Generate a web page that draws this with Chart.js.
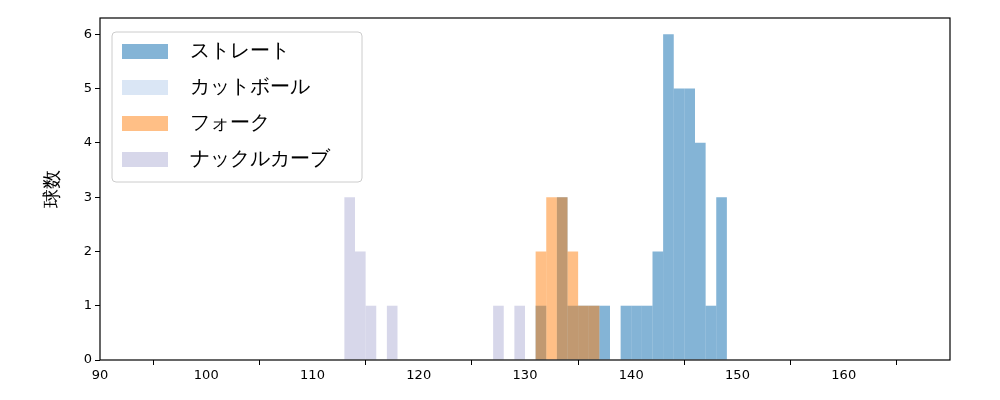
<!DOCTYPE html>
<html><head><meta charset="utf-8">
<script src="https://cdn.jsdelivr.net/npm/chart.js@4/dist/chart.umd.min.js"></script>
<style>html,body{margin:0;background:#fff}#wrap{width:1000px;height:400px}</style>
</head><body><div id="wrap"><canvas id="c"></canvas></div>
<script>
// bin centres (width 1) and counts
var straightX = [131.5,133.5,134.5,135.5,136.5,137.5,139.5,140.5,141.5,142.5,143.5,144.5,145.5,146.5,147.5,148.5];
var straightY = [1,3,1,1,1,1,1,1,1,2,6,5,5,4,1,3];
var cutterX = [];
var cutterY = [];
var forkX = [131.5,132.5,133.5,134.5,135.5,136.5];
var forkY = [2,3,3,2,1,1];
var knuckleX = [113.5,114.5,115.5,117.5,127.5,129.5];
var knuckleY = [3,2,1,1,1,1];
var xTicks = [90,100,110,120,130,140,150,160];
var yTicks = [0,1,2,3,4,5,6];
var names = ['ストレート','カットボール','フォーク','ナックルカーブ'];
var colors = ['rgba(31,119,180,0.55)','rgba(174,199,232,0.45)','rgba(255,127,14,0.5)','rgba(188,189,220,0.6)'];

function pts(xs, ys) { return xs.map(function (x, i) { return {x: x, y: ys[i]}; }); }
function fixed(list) { return function (s) { s.ticks = list.map(function (v) { return {value: v}; }); }; }
var FONT = 'DejaVu Sans';

var frame = {
    id: 'frame',
    afterDraw: function (chart) {
        var ctx = chart.ctx, a = chart.chartArea;
        ctx.save();
        ctx.strokeStyle = '#000'; ctx.lineWidth = 1.2;
        ctx.strokeRect(a.left, a.top, a.right - a.left, a.bottom - a.top);
        // legend box
        var x0 = 112, y0 = 32, w = 250, h = 150;
        ctx.fillStyle = 'rgba(255,255,255,0.8)';
        ctx.strokeStyle = '#ccc'; ctx.lineWidth = 1;
        ctx.beginPath(); ctx.roundRect(x0, y0, w, h, 4); ctx.fill(); ctx.stroke();
        ctx.font = '20px ' + FONT; ctx.textBaseline = 'middle';
        for (var i = 0; i < names.length; i++) {
            var cy = 51 + i * 36;
            ctx.fillStyle = colors[i];
            ctx.fillRect(122, cy - 7, 46, 15);
            ctx.fillStyle = '#000';
            ctx.fillText(names[i], 190, cy + 1);
        }
        ctx.restore();
    }
};

var tickGrid = {display: true, drawOnChartArea: false, drawTicks: true, tickLength: 5, color: '#000', lineWidth: 1};

new Chart(document.getElementById('c'), {
    type: 'bar',
    data: {
        datasets: [
            {label: names[0], data: pts(straightX, straightY), backgroundColor: colors[0], order: 4},
            {label: names[1], data: pts(cutterX, cutterY), backgroundColor: colors[1], order: 3},
            {label: names[2], data: pts(forkX, forkY), backgroundColor: colors[2], order: 2},
            {label: names[3], data: pts(knuckleX, knuckleY), backgroundColor: colors[3], order: 1}
        ]
    },
    options: {
        responsive: true, maintainAspectRatio: false, animation: false,
        layout: {padding: {left: 42, right: 50, top: 18, bottom: 0}},
        datasets: {bar: {grouped: false, barPercentage: 1, categoryPercentage: 1, borderWidth: 0, inflateAmount: 0}},
        plugins: {legend: {display: false}, tooltip: {enabled: false}},
        scales: {
            x: {
                type: 'linear', min: 90, max: 170, offset: false,
                grid: tickGrid,
                border: {display: false},
                ticks: {color: '#000', font: {family: FONT, size: 13}},
                afterBuildTicks: fixed(xTicks),
                afterFit: function (s) { s.height = 40; }
            },
            y: {
                min: 0, max: 6.3,
                grid: tickGrid,
                border: {display: false},
                ticks: {color: '#000', font: {family: FONT, size: 13}},
                afterBuildTicks: fixed(yTicks),
                title: {display: true, text: '球数', color: '#000', font: {family: FONT, size: 19}, padding: 0},
                afterFit: function (s) { s.width = 58; }
            }
        }
    },
    plugins: [frame]
});
</script></body></html>
